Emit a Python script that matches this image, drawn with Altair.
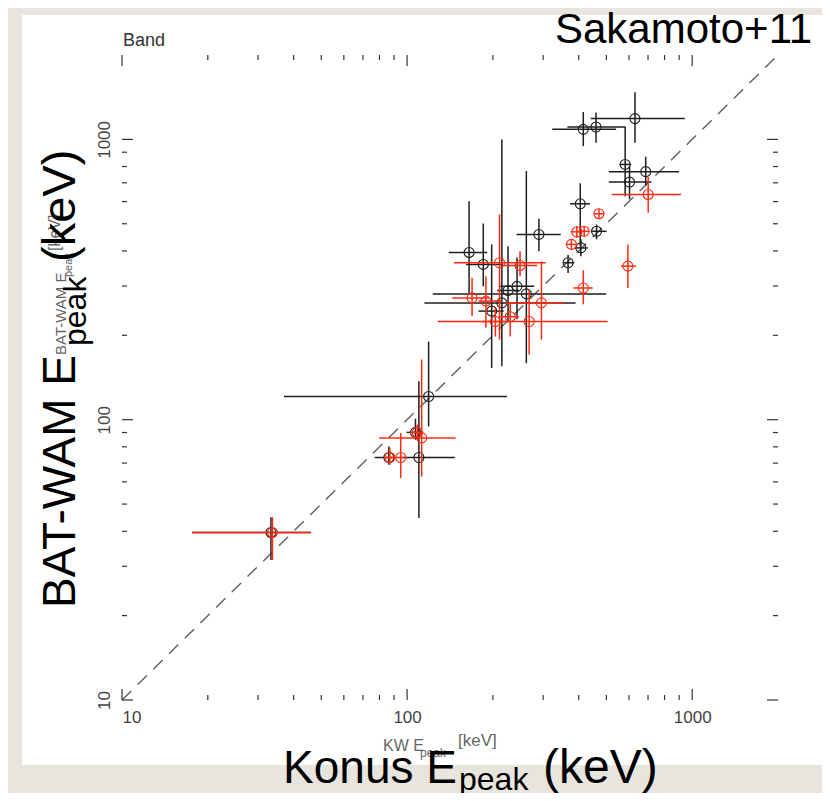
import altair as alt
import pandas as pd

# ---------------- data ----------------
black_x   = [415, 460, 630, 582, 687, 603, 405, 462, 407, 367, 290, 165, 185, 243, 226, 262, 215, 198, 119, 110, 107, 86.3, 33.3]
black_xlo = [323, 365, 441, 556, 510, 510, 373, 441, 387, 353, 242, 140, 161, 212, 207, 123, 115, 178, 37, 95.6, 99.6, 77, 17.6]
black_xhi = [541, 584, 942, 611, 898, 719, 438, 501, 430, 386, 346, 191, 215, 279, 247, 499, 390, 218, 224, 147, 111, 88.2, 46]
black_y   = [1086, 1107, 1186, 814, 767, 704, 589, 470, 410, 363, 458, 395, 358, 299, 289, 281, 261, 244, 121, 73.3, 90.1, 73.3, 39.6]
black_ylo = [946, 973, 973, 627, 685, 611, 416, 440, 383, 334, 399, 280, 299, 228, 224, 159, 155, 153, 94.6, 44.6, 84.8, 69, 31.6]
black_yhi = [1252, 1246, 1472, 1107, 867, 801, 697, 497, 440, 388, 521, 602, 501, 379, 416, 771, 1000, 422, 190, 137, 100.8, 80.3, 44.9]

red_x   = [701, 471, 394, 418, 377, 595, 415, 211, 249, 169, 189, 296, 204, 230, 268, 112.5, 108.6, 87, 95, 33.7]
red_xlo = [522, 452, 375, 402, 360, 563, 383, 146, 215, 144, 178, 221, 183, 210, 128, 79.8, 102, 83.3, 84.7, 17.6]
red_xhi = [913, 492, 413, 436, 396, 636, 448, 306, 286, 194, 215, 356, 228, 247, 505, 148, 114, 90.3, 98, 46]
red_y   = [636, 543, 468, 470, 422, 353, 295, 363, 355, 272, 265, 261, 224, 233, 224, 86.1, 90.1, 73.3, 73.3, 39.6]
red_ylo = [547, 521, 446, 449, 405, 295, 258, 193, 325, 234, 213, 193, 198, 198, 171, 62.7, 84.8, 69, 61.9, 31.6]
red_yhi = [736, 566, 490, 490, 440, 422, 341, 540, 399, 321, 325, 367, 251, 262, 291, 164, 96, 79.4, 89.6, 44.9]

diag_vals = [10, 2000]
major_ticks = [10, 100, 1000]
minor_ticks = [20, 30, 40, 50, 60, 70, 80, 90, 200, 300, 400, 500, 600, 700, 800, 900]

# ---------------- styling ----------------
W, H = 656, 645
BLACK = "#1e1e1e"
RED = "#ff2a10"
SANS = "Liberation Sans, Arial, sans-serif"

x_scale = alt.Scale(type="log", domain=[10, 2000], nice=False)
y_scale = alt.Scale(type="log", domain=[10, 2000], nice=False)
x_axis = alt.Axis(values=major_ticks, format="d", grid=False, ticks=False, domain=False,
                  labelFontSize=17, labelColor="#444", labelFont=SANS, labelPadding=9,
                  title=None, zindex=2)
y_axis = alt.Axis(values=major_ticks, format="d", grid=False, ticks=False, domain=False,
                  labelFontSize=17, labelColor="#444", labelFont=SANS, labelPadding=9,
                  labelAngle=270, labelAlign="center", labelBaseline="bottom", title=None, zindex=2)


def X(f):
    return alt.X(f"{f}:Q", scale=x_scale, axis=x_axis, title=None)


def Y(f):
    return alt.Y(f"{f}:Q", scale=y_scale, axis=y_axis, title=None)


def frame(xs, xlo, xhi, ys, ylo, yhi):
    return pd.DataFrame({"x": xs, "xlo": xlo, "xhi": xhi, "y": ys, "ylo": ylo, "yhi": yhi})


black = frame(black_x, black_xlo, black_xhi, black_y, black_ylo, black_yhi)
red = frame(red_x, red_xlo, red_xhi, red_y, red_ylo, red_yhi)
diag = pd.DataFrame({"x": diag_vals, "y": diag_vals})
maj = pd.DataFrame({"v": major_ticks})
mnr = pd.DataFrame({"v": minor_ticks})
one = alt.Data(values=[{}])


def series(df, color):
    c = alt.Chart(df)
    xerr = c.mark_rule(color=color, strokeWidth=1.5).encode(x=X("xlo"), x2="xhi:Q", y=Y("y"))
    yerr = c.mark_rule(color=color, strokeWidth=1.5).encode(x=X("x"), y=Y("ylo"), y2="yhi:Q")
    pts = c.mark_point(shape="circle", filled=False, size=100, color=color, strokeWidth=1.1,
                       opacity=1).encode(x=X("x"), y=Y("y"))
    return [xerr, yerr, pts]


def ticks(df, length):
    c = alt.Chart(df).mark_rule(color="#333", strokeWidth=1.2)
    return [
        c.encode(x=X("v"), y=alt.value(H), y2=alt.value(H - length)),
        c.encode(x=X("v"), y=alt.value(0), y2=alt.value(length)),
        c.encode(y=Y("v"), x=alt.value(0), x2=alt.value(length)),
        c.encode(y=Y("v"), x=alt.value(W), x2=alt.value(W - length)),
    ]


def label(text, x, y, size, font=SANS, color="#000", angle=0, align="left", baseline="alphabetic"):
    return alt.Chart(one).mark_text(text=text, fontSize=size, font=font, color=color, angle=angle,
                                    align=align, baseline=baseline).encode(
        x=alt.value(x), y=alt.value(y))


panel = alt.Chart(one).mark_rect(color="white").encode(
    x=alt.value(-100), x2=alt.value(703), y=alt.value(-40), y2=alt.value(710))

diag_line = alt.Chart(diag).mark_line(color="#606060", strokeWidth=1.4, strokeDash=[13, 9]).encode(
    x=X("x"), y=Y("y"))

layers = [panel, diag_line]
layers += series(black, BLACK)
layers += series(red, RED)
layers += ticks(maj, 11)
layers += ticks(mnr, 5)

# small original labels
layers += [
    label("Band", 1, -9, 18, color="#333"),
    label("KW E", 261, 696, 16, color="#666"),
    label("peak", 298, 702, 12, color="#666"),
    label("[keV]", 336, 691, 17, color="#666"),
    label("BAT-WAM E", -56, 300, 15, color="#666", angle=270),
    label("peak", -50, 222, 11, color="#666", angle=270),
    label("[keV]", -62, 196, 16, color="#666", angle=270),
]

# big slide titles
layers += [
    label("Sakamoto+11", 433, -12, 42),
    label("Konus E", 335, 728, 46, align="right"),
    label("peak", 337, 735, 32),
    label("(keV)", 421, 728, 48),
    label("BAT-WAM E", -47, 553, 46, angle=270),
    label("peak", -36, 291, 32, angle=270),
    label("(keV)", -47, 207, 47, angle=270),
]

chart = alt.layer(*layers).properties(
    width=W, height=H,
    padding={"left": 114, "top": 47, "right": 44, "bottom": 93},
    autosize=alt.AutoSizeParams(type="none"),
    background="#e8e5de",
).configure_view(stroke="#222", strokeWidth=1.5)

chart.save("out.html", embed_options={"renderer": "svg", "actions": False})
